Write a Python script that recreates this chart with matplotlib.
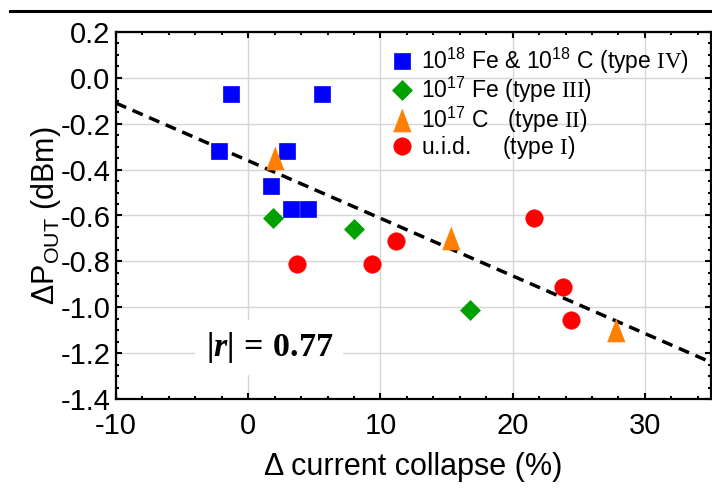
import matplotlib
matplotlib.use("Agg")
import matplotlib.pyplot as plt
from matplotlib.lines import Line2D
from matplotlib.ticker import MultipleLocator

# ── Data ──────────────────────────────────────────────────────────────────────
type4_x = [-1.3, 5.6, -2.2, 2.9, 1.7, 3.2, 4.5]
type4_y = [-0.07, -0.07, -0.32, -0.32, -0.47, -0.57, -0.57]

type3_x = [1.9, 8.0, 16.8]
type3_y = [-0.61, -0.66, -1.01]

type2_x = [2.0, 15.3, 27.8]
type2_y = [-0.35, -0.70, -1.10]

type1_x = [3.7, 9.35, 11.2, 21.6, 23.8, 24.4]
type1_y = [-0.81, -0.81, -0.71, -0.61, -0.91, -1.055]

fit_x = [-10, 35]
fit_y = [-0.11, -1.24]
r_abs = 0.77

labels = [
    r"$\mathsf{10^{18}}$ Fe & $\mathsf{10^{18}}$ C (type $\mathrm{IV}$)",
    r"$\mathsf{10^{17}}$ Fe (type $\mathrm{III}$)",
    r"$\mathsf{10^{17}}$ C   (type $\mathrm{II}$)",
    r"u.i.d.     (type $\mathrm{I}$)",
]

# ── Fonts ─────────────────────────────────────────────────────────────────────
plt.rcParams["font.family"] = ["Liberation Sans", "DejaVu Sans"]
plt.rcParams["axes.unicode_minus"] = False
plt.rcParams["mathtext.fontset"] = "custom"
plt.rcParams["mathtext.rm"] = "Liberation Serif"
plt.rcParams["mathtext.sf"] = "Liberation Sans"
plt.rcParams["mathtext.it"] = "Liberation Serif:italic:bold"
plt.rcParams["mathtext.bf"] = "Liberation Serif:bold"

TRI = [(0, 1.3), (-1, -1.3), (1, -1.3)]   # taller-than-wide triangle


def main() -> None:
    fig = plt.figure(figsize=(7.12, 4.90), dpi=100)
    ax = fig.add_axes([116 / 712, 1 - 399 / 490, 595 / 712, 367 / 490])

    # regression line sits behind the markers
    ax.plot(fit_x, fit_y, color="black", lw=2.5, dashes=(3.2, 2.0), zorder=2)

    series = [
        (type4_x, type4_y, "s", "#0000FF", 12),
        (type3_x, type3_y, "D", "#00A000", 10.5),
        (type2_x, type2_y, TRI, "#FF8000", 16.5),
        (type1_x, type1_y, "o", "#FF0000", 12.5),
    ]
    for (xs, ys, mk, col, ms), lab in zip(series, labels):
        ax.plot(xs, ys, ls="none", marker=mk, ms=ms, color=col,
                mec=col, mew=0.5, label=lab, zorder=3)

    ax.text(1.6, -1.175,
            r"$\mathbf{|}\mathit{r}\mathbf{|\,=\,%.2f}$" % r_abs,
            fontsize=24.5, ha="center", va="center", zorder=2.5,
            bbox=dict(boxstyle="square,pad=0.3", fc="white", ec="none"))

    # ── Axes cosmetics ────────────────────────────────────────────────────────
    ax.set_xlim(-10, 35)
    ax.set_ylim(-1.4, 0.2)
    ax.xaxis.set_major_locator(MultipleLocator(10))
    ax.xaxis.set_minor_locator(MultipleLocator(2))
    ax.yaxis.set_major_locator(MultipleLocator(0.2))
    ax.yaxis.set_minor_locator(MultipleLocator(0.05))
    ax.yaxis.set_major_formatter(plt.FormatStrFormatter("%.1f"))

    ax.grid(which="major", color="#d6d6d6", lw=1.0, zorder=0)
    ax.set_axisbelow(True)
    for sp in ax.spines.values():
        sp.set_linewidth(1.6)
    ax.tick_params(which="both", direction="in", top=True, right=True,
                   width=1.5, labelsize=21)
    ax.tick_params(which="major", length=4.5)
    ax.tick_params(which="minor", length=2.5)
    ax.tick_params(axis="x", pad=9)
    ax.tick_params(axis="y", pad=4)

    ax.set_xlabel("Δ current collapse (%)", fontsize=22, labelpad=9)
    ax.set_ylabel(r"$\mathsf{\Delta P_{OUT}}$ (dBm)", fontsize=22, labelpad=-2)

    ax.legend(loc="upper left", bbox_to_anchor=(0.462, 0.962), frameon=False,
              fontsize=16.5, handlelength=1.0, handletextpad=0.3,
              labelspacing=-0.04, borderpad=0, borderaxespad=0)

    # thin rule across the top of the figure page
    fig.add_artist(Line2D([10 / 712, 1], [1 - 11 / 490] * 2, color="black",
                          lw=2.2, transform=fig.transFigure))

    fig.savefig("out.png", dpi=100)


if __name__ == "__main__":
    main()
